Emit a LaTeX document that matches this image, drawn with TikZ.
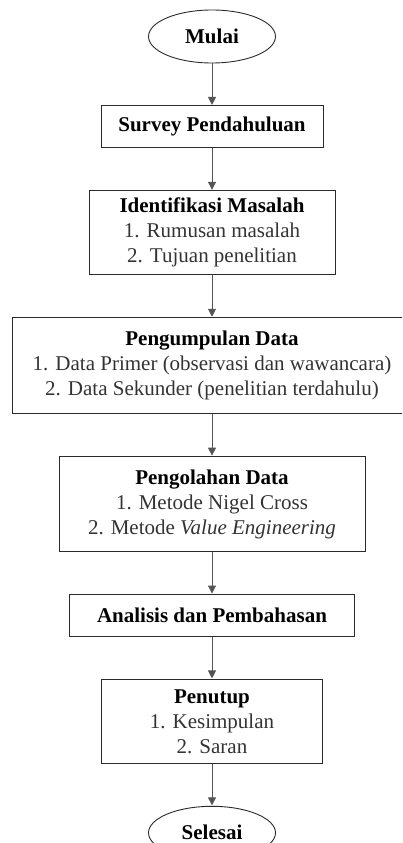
\documentclass[tikz,border=0pt]{standalone}
\usepackage{fontspec}
\setmainfont{Liberation Serif}
\usepackage{tikz}
\usetikzlibrary{
    shapes.geometric, arrows.meta, positioning
}
\definecolor{boxline}{HTML}{2B2B2B}
\definecolor{arrline}{HTML}{555555}
\definecolor{itemtxt}{HTML}{333333}
\tikzset{
  base/.style={draw=boxline, line width=0.9pt, inner sep=0pt,
               align=center, font=\fontsize{21pt}{25pt}\selectfont},
  term/.style={base, ellipse, minimum width=127pt, minimum height=53pt},
  proc/.style={base, rectangle},
  arr/.style={-{Triangle[width=8pt,length=8pt]}, draw=arrline,
              line width=0.9pt, shorten >=0.5pt},
}
\newcommand{\itm}[1]{{\color{itemtxt}#1}}

\begin{document}
\begin{tikzpicture}[node distance=42pt]
  \useasboundingbox (0pt,0pt) rectangle (402pt,-843pt);
  \clip (0pt,0pt) rectangle (402pt,-843pt);
  \node[term] (mulai) at (212pt,-36.5pt) {\textbf{Mulai}};
  \node[proc, minimum width=222pt, minimum height=42pt, below=of mulai] (survey)
    {\textbf{Survey Pendahuluan}};
  \node[proc, minimum width=246pt, minimum height=84pt, below=of survey] (identifikasi)
    {\textbf{Identifikasi Masalah}\\ \itm{1. Rumusan masalah}\\ \itm{2. Tujuan penelitian}};
  \node[proc, minimum width=399pt, minimum height=96pt, below=of identifikasi] (pengumpulan)
    {\textbf{Pengumpulan Data}\\ \itm{1. Data Primer (observasi dan wawancara)}\\
     \itm{2. Data Sekunder (penelitian terdahulu)}};
  \node[proc, minimum width=306pt, minimum height=95pt, below=of pengumpulan] (pengolahan)
    {\textbf{Pengolahan Data}\\ \itm{1. Metode Nigel Cross}\\
     \itm{2. Metode \textit{Value Engineering}}};
  \node[proc, minimum width=285pt, minimum height=42pt, below=of pengolahan] (analisis)
    {\textbf{Analisis dan Pembahasan}};
  \node[proc, minimum width=221pt, minimum height=84pt, below=of analisis] (penutup)
    {\textbf{Penutup}\\ \itm{1. Kesimpulan}\\ \itm{2. Saran}};
  \node[term, below=of penutup] (selesai) {\textbf{Selesai}};

  \draw[arr] (mulai) -- (survey);
  \draw[arr] (survey) -- (identifikasi);
  \draw[arr] (identifikasi) -- (pengumpulan);
  \draw[arr] (pengumpulan) -- (pengolahan);
  \draw[arr] (pengolahan) -- (analisis);
  \draw[arr] (analisis) -- (penutup);
  \draw[arr] (penutup) -- (selesai);
\end{tikzpicture}
\end{document}
